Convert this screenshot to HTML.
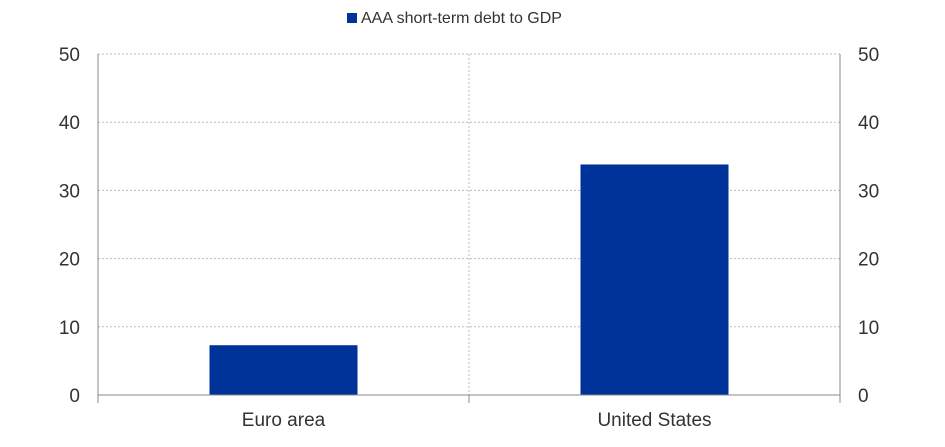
<!DOCTYPE html>
<html><head><meta charset="utf-8"><style>
body{margin:0;background:#fff;font-family:"Liberation Sans",Arial,sans-serif;}
</style></head><body>
<svg id="chart" width="945" height="442" xmlns="http://www.w3.org/2000/svg" font-family="Liberation Sans, Arial, sans-serif">
<g id="legend">
<rect x="347" y="13" width="10" height="10" fill="#00339a"/>
<text x="361" y="23" font-size="16" fill="#333">AAA short-term debt to GDP</text>
</g>
<g id="grid"></g>
<g id="bars"></g>
<g id="axes"></g>
</svg>
<script>
const categories = ["Euro area", "United States"];
const values = [7.3, 33.8];
const ticks = [0, 10, 20, 30, 40, 50];
const NS = "http://www.w3.org/2000/svg";
const L = 98, R = 840, T = 54, B = 395, yMax = 50;
function y(v){ return B - (v / yMax) * (B - T); }
function x(i){ return L + (R - L) / categories.length * (i + 0.5); }
function mk(tag, attrs, parent){ const e = document.createElementNS(NS, tag); for (const k in attrs) e.setAttribute(k, attrs[k]); parent.appendChild(e); return e; }
const grid = document.getElementById('grid'), bars = document.getElementById('bars'), axes = document.getElementById('axes');
ticks.forEach(t => {
  if (t > 0) {
    const g = mk('line', {x1: L, x2: R, y1: y(t), y2: y(t), stroke: '#bbb', 'stroke-dasharray': '2,2', 'stroke-width': 1}, grid);
    
    
  }
  const a = mk('text', {x: 80, y: y(t) + 7, 'text-anchor': 'end', 'font-size': 19, fill: '#333'}, axes);
  a.textContent = t;
  
  
  const b = mk('text', {x: 858, y: y(t) + 7, 'font-size': 19, fill: '#333'}, axes);
  b.textContent = t;
  
  
});
const mid = (L + R) / 2;
const vg = mk('line', {x1: mid, x2: mid, y1: T, y2: B, stroke: '#bbb', 'stroke-dasharray': '2,2'}, grid);


const bw = 148;
categories.forEach((c, i) => {
  const r = mk('rect', {x: x(i) - bw / 2, y: y(values[i]), width: bw, height: B - y(values[i]), fill: '#00339a'}, bars);
  
  
  const t = mk('text', {x: x(i), y: 426, 'text-anchor': 'middle', 'font-size': 19, fill: '#333'}, axes);
  t.textContent = c;
  
  
});
const ax = mk('line', {x1: L, x2: R, y1: B, y2: B, stroke: '#888', 'stroke-width': 1}, axes);


const la = mk('line', {x1: L, x2: L, y1: T, y2: B, stroke: '#888'}, axes);


const ra = mk('line', {x1: R, x2: R, y1: T, y2: B, stroke: '#888'}, axes);


[L, mid, R].forEach(px => {
  const tk = mk('line', {x1: px, x2: px, y1: B, y2: B + 8, stroke: '#888'}, axes);
  
  
});
</script>
</body></html>
